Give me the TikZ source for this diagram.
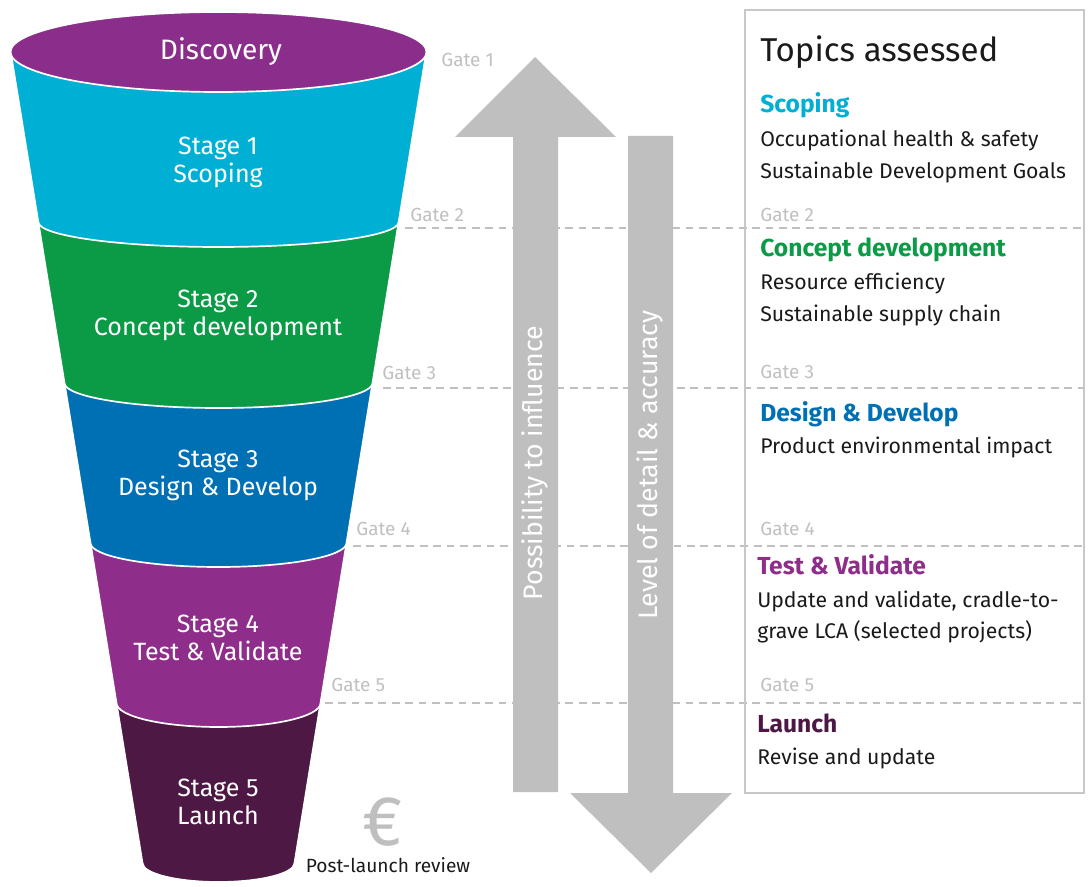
\documentclass[tikz,border=0pt]{standalone}
\usepackage{fontspec}
\setmainfont{Fira Sans}
\usepackage{tikz}
\usetikzlibrary{positioning}          % placement relatif
\definecolor{discov}{RGB}{139,45,138}  % Discovery
\definecolor{scope}{RGB}{0,176,212}    % Stage 1
\definecolor{concept}{RGB}{11,154,69}  % Stage 2
\definecolor{design}{RGB}{0,112,180}   % Stage 3
\definecolor{testval}{RGB}{142,45,138} % Stage 4
\definecolor{launch}{RGB}{77,24,67}    % Stage 5
\definecolor{gatec}{RGB}{192,192,192}
\definecolor{arrowc}{RGB}{191,191,191}
\definecolor{boxc}{RGB}{200,200,200}
\definecolor{textc}{RGB}{26,26,26}
\tikzset{
  band/.style={draw=white, line width=1.2pt},
  stagetxt/.style={text=white, align=center, font=\fontsize{17.8}{20}\selectfont},
  gatetxt/.style={text=gatec, anchor=base west, inner sep=0pt, font=\fontsize{13.5}{15}\selectfont},
  gateline/.style={draw=gatec, line width=1pt, dash pattern=on 5.5pt off 4pt},
  arrowtxt/.style={text=white, rotate=90, font=\fontsize{19}{22}\selectfont},
  topic/.style={anchor=base west, inner sep=0pt, text=textc, font=\fontsize{15.1}{18}\selectfont},
  topichead/.style={topic, font=\fontsize{17.5}{20}\selectfont\bfseries},
}

\begin{document}
\begin{tikzpicture}[x=0.025cm, y=-0.025cm]
    \useasboundingbox (0,0) rectangle (1088,887);
    \foreach \g/\y/\x in {2/228/405, 3/388/383, 4/546/353, 5/703/325}{
        \coordinate (gl\g) at (\x,\y);
        \coordinate (gr\g) at (1084,\y);
        \draw[gateline] (gl\g)--(gr\g);
    }
    \draw[boxc, line width=0.8pt] (745,10) rectangle (1084,793);
    % fleches
    \fill[arrowc] (513,792)--(513,137)--(455,137)--(535,57)--(616,137)--(558,137)--(558,792)--cycle;
    \fill[arrowc] (628,136)--(628,793)--(570,793)--(651,873)--(732,793)--(673,793)--(673,136)--cycle;
    \node[arrowtxt](infl) at (535,463){Possibility to influence};
    \node[arrowtxt](detail) at (650,465){Level of detail \& accuracy};
    % entonnoir
    \foreach \t/\b/\r/\c in {703/863/19/launch, 543/703/24/testval, 383/543/24/design, 222/383/25/concept, 52/222/25/scope}{
        \pgfmathsetmacro\wt{206.5-0.1625*(\t-60)}
        \pgfmathsetmacro\wb{206.5-0.1625*(\b-60)}
        \draw[band, fill=\c] ({218.5-\wt},\t)--({218.5-\wb},\b)
            arc[start angle=180, end angle=0, x radius=\wb, y radius=\r]--({218.5+\wt},\t)--cycle;
    }
    \draw[band, fill=discov] (218.5,52) ellipse[x radius=208, y radius=40];
    \node[stagetxt, anchor=base, font=\fontsize{20}{24}\selectfont](disc) at (221,60){Discovery};
    \node[stagetxt](s1) at (218,162.5){Stage 1\\Scoping};
    \node[stagetxt](s2) at (218,315){Stage 2\\Concept development};
    \node[stagetxt](s3) at (218,475.5){Stage 3\\Design \& Develop};
    \node[stagetxt](s4) at (218,638){Stage 4\\Test \& Validate};
    \node[stagetxt](s5) at (218,802){Stage 5\\Launch};
    \node[text=arrowc, font=\fontsize{50}{50}\selectfont](euro) at (383,822){€};
    \node[anchor=base, text=textc, font=\fontsize{13.6}{16}\selectfont](review) at (388,872){Post-launch review};
    % portes
    \node[gatetxt](g1) at (441,67){Gate 1};
    \node[gatetxt](g2) at (410,221){Gate 2};
    \node[gatetxt](g3) at (382,379){Gate 3};
    \node[gatetxt](g4) at (356,535){Gate 4};
    \node[gatetxt](g5) at (331,691){Gate 5};
    \node[gatetxt](t2) at (760,222){Gate 2};
    \node[gatetxt](t3) at (760,378){Gate 3};
    \node[gatetxt](t4) at (760,535){Gate 4};
    \node[gatetxt](t5) at (760,691){Gate 5};
    % sujets
    \node[topic, font=\fontsize{23.5}{28}\selectfont](title) at (760,62){Topics assessed};
    \node[topichead, text=scope](h1) at (760,113){Scoping};
    \node[topic](a1) at (760,147){Occupational health \& safety};
    \node[topic](b1) at (760,179){Sustainable Development Goals};
    \node[topichead, text=concept](h2) at (760,257){Concept development};
    \node[topic](a2) at (760,289){Resource efficiency};
    \node[topic](b2) at (760,321){Sustainable supply chain};
    \node[topichead, text=design](h3) at (760,421){Design \& Develop};
    \node[topic](a3) at (760,453){Product environmental impact};
    \node[topichead, text=testval](h4) at (757,574){Test \& Validate};
    \node[topic](a4) at (757,607){Update and validate, cradle-to-};
    \node[topic](b4) at (757,638){grave LCA (selected projects)};
    \node[topichead, text=launch](h5) at (757,732){Launch};
    \node[topic](a5) at (757,764){Revise and update};
\end{tikzpicture}
\end{document}
